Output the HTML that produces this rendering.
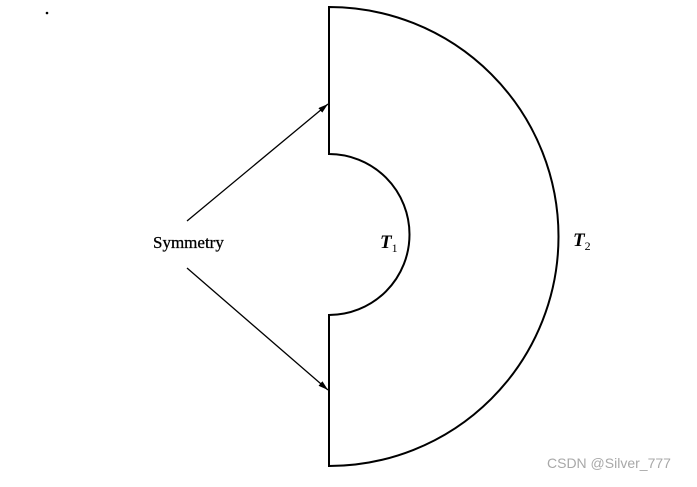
<!DOCTYPE html>
<html><head><meta charset="utf-8"><style>html,body{margin:0;padding:0;background:#fff}</style></head>
<body>
<svg width="697" height="482" viewBox="0 0 697 482" xmlns="http://www.w3.org/2000/svg">
<defs><marker id="a" markerWidth="10" markerHeight="6" refX="10" refY="3" orient="auto" markerUnits="userSpaceOnUse"><path d="M0,0 L10,3 L0,6 z" fill="#000"/></marker></defs>
<circle cx="47" cy="13" r="1.3" fill="#000"/>
<path d="M329,7 L329,154 A80,80 0 0 1 329,315 L329,466 A229.5,229.5 0 0 0 329,7 Z" fill="none" stroke="#000" stroke-width="2"/>
<line x1="187" y1="221" x2="328" y2="104" stroke="#000" stroke-width="1.3" marker-end="url(#a)"/>
<line x1="187" y1="268" x2="328" y2="390" stroke="#000" stroke-width="1.3" marker-end="url(#a)"/>
<text x="153" y="248" font-family="Liberation Serif, serif" font-size="17" stroke="#000" stroke-width="0.3">Symmetry</text>
<text x="380" y="248" font-family="Liberation Serif, serif" font-size="19" font-style="italic" font-weight="bold">T<tspan font-size="12" dy="4" font-style="normal" font-weight="normal">1</tspan></text>
<text x="573" y="246" font-family="Liberation Serif, serif" font-size="19" font-style="italic" font-weight="bold">T<tspan font-size="12" dy="4" font-style="normal" font-weight="normal">2</tspan></text>
<text x="547" y="468" font-family="Liberation Sans, sans-serif" font-size="14" fill="#a8a8a8">CSDN @Silver_777</text>
</svg>
</body></html>
